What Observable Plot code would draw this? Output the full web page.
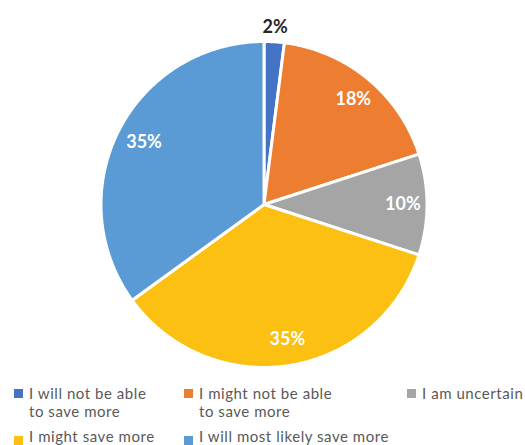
<!DOCTYPE html>
<html><head><meta charset="utf-8">
<script src="https://cdn.jsdelivr.net/npm/d3@7"></script>
<script src="https://cdn.jsdelivr.net/npm/@observablehq/plot@0.6"></script>
<style>
body{margin:0;background:#fff;font-family:Lato, "Open Sans", sans-serif;}
#wrap{position:relative;width:525px;height:445px;overflow:hidden;}
#wrap svg{position:absolute;left:0;top:0;}
.item{position:absolute;font-size:15px;color:#595959;line-height:18.5px;white-space:pre-line;letter-spacing:0.55px;}
.sw{position:absolute;width:9px;height:9px;}
</style></head><body><div id="wrap"></div>
<script>
const categories = ["I will not be able to save more", "I might not be able to save more", "I am uncertain", "I might save more", "I will most likely save more"];
const values = [2, 18, 10, 35, 35];
const colors = ["#4472C4", "#ED7D31", "#A5A5A5", "#FBC012", "#5B9BD5"];

const arcs = d3.pie().sort(null).value(d => d)(values);
const pts = [];
arcs.forEach((a, i) => {
  pts.push({cat: categories[i], x: 0, y: 0});
  const n = Math.max(2, Math.ceil((a.endAngle - a.startAngle) / (Math.PI / 360)));
  for (let k = 0; k <= n; k++) {
    const t = a.startAngle + (a.endAngle - a.startAngle) * k / n;
    pts.push({cat: categories[i], x: Math.sin(t), y: Math.cos(t)});
  }
});
const labs = arcs.map((a, i) => {
  const m = (a.startAngle + a.endAngle) / 2;
  const outside = values[i] < 5;
  const r = outside ? 1.09 : 0.84;
  return {x: r * Math.sin(m), y: r * Math.cos(m), text: values[i] + "%", outside};
});

const chart = Plot.plot({
  width: 525, height: 380,
  margin: 0,
  x: {domain: [-1, 1], range: [100.5, 426.5], axis: null},
  y: {domain: [-1, 1], range: [367, 41], axis: null},
  color: {domain: categories, range: colors},
  style: {fontFamily: "Lato, sans-serif", background: "white"},
  marks: [
    Plot.line(pts, {x: "x", y: "y", z: "cat", fill: "cat", stroke: "white", strokeWidth: 3, curve: "linear-closed"}),
    Plot.text(labs.filter(d => !d.outside), {x: "x", y: "y", text: "text", fill: "white", fontSize: 18, fontWeight: 700, dx: 2}),
    Plot.text(labs.filter(d => d.outside), {x: "x", y: "y", text: "text", fill: "#262626", fontSize: 18, fontWeight: 700})
  ]
});
const wrap = document.getElementById("wrap");
wrap.appendChild(chart);

const legendPos = [[14, 383.5, 389.3], [184, 383.5, 389.3], [407, 383.5, 389.3], [14, 426.5, 435.5], [184, 426.5, 435.5]];
categories.forEach((c, i) => {
  const [x, ty, sy] = legendPos[i];
  const sw = document.createElement("div");
  sw.className = "sw";
  sw.style.left = x + "px"; sw.style.top = sy + "px"; sw.style.background = colors[i];
  wrap.appendChild(sw);
  const t = document.createElement("div");
  t.className = "item";
  t.style.left = (x + 15) + "px"; t.style.top = ty + "px";
  t.textContent = c.replace(" to save more", "\nto save more");
  wrap.appendChild(t);
});
</script></body></html>
